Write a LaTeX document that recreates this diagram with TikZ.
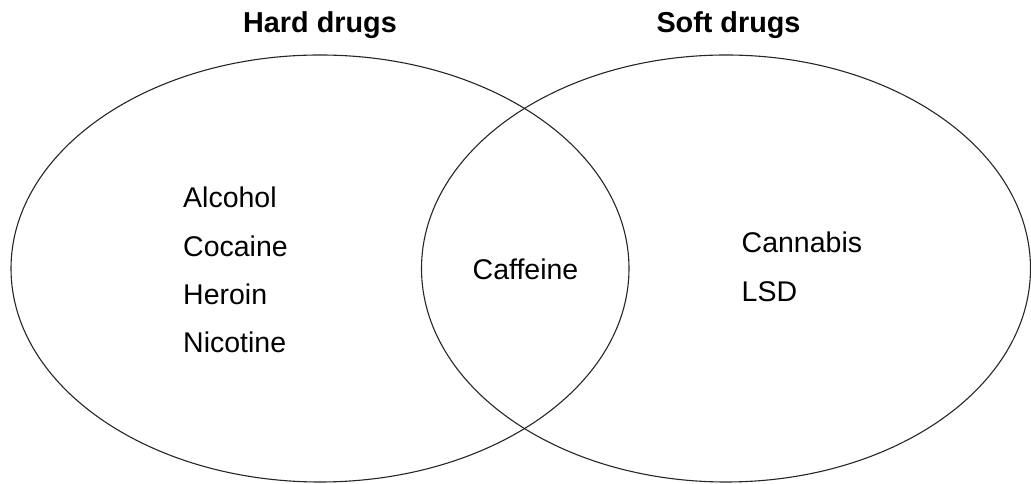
\documentclass[tikz,border=0pt]{standalone}
\usepackage{fontspec}
\setmainfont{Liberation Sans}
\begin{document}
\begin{tikzpicture}[x=1pt,y=1pt,
  setline/.style={draw=black!85,line width=1.1pt},
  title/.style={font=\fontsize{28.8}{34}\selectfont\bfseries,inner sep=0pt,anchor=base},
  item/.style={font=\fontsize{28.5}{34}\selectfont,inner sep=0pt,anchor=base west}]
\useasboundingbox (0,0) rectangle (1031,484);
\draw[setline] (320,215.5) ellipse [x radius=309, y radius=213.5];
\draw[setline] (726,215.5) ellipse [x radius=304.5, y radius=213.5];
\node[title] (hard) at (320,451) {Hard drugs};
\node[title] (soft) at (728.5,451) {Soft drugs};
\node[item] (alc) at (183,276) {Alcohol};
\node[item] (coc) at (183,227.5) {Cocaine};
\node[item] (her) at (183,179) {Heroin};
\node[item] (nic) at (183,131) {Nicotine};
\node[item] (caf) at (472.5,204) {Caffeine};
\node[item] (can) at (741.5,231) {Cannabis};
\node[item] (lsd) at (741.5,182) {LSD};
\end{tikzpicture}
\end{document}
